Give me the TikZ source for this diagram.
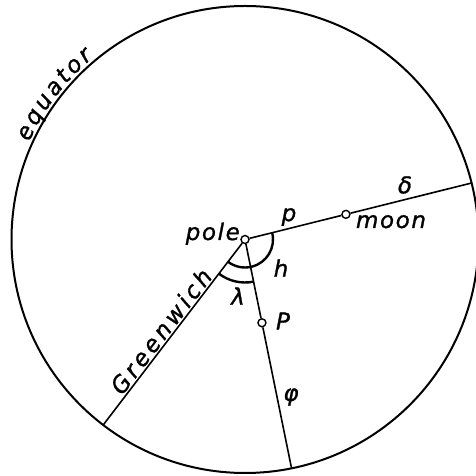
\documentclass[tikz,border=0pt]{standalone}
\usepackage{fontspec}
\newfontfamily\lbl{DejaVu Sans}[LetterSpace=7,FakeBold=1.2]
\newfontfamily\lblwide{DejaVu Sans}[LetterSpace=15,FakeBold=1.2]
\newfontfamily\lblone{DejaVu Sans}[FakeBold=1.2]
\usetikzlibrary{calc}
\begin{document}
\begin{tikzpicture}[x=1pt,y=1pt,
  lab/.style={font=\lbl\itshape\fontsize{23}{25}\selectfont, inner sep=0pt},
  labwide/.style={font=\lblwide\itshape\fontsize{23}{25}\selectfont, inner sep=0pt},
  labone/.style={font=\lblone\itshape\fontsize{23}{25}\selectfont, inner sep=0pt},
  dot/.style={circle, draw, fill=white, line width=1.4pt, minimum size=8pt, inner sep=0pt},
  radial/.style={line width=1.6pt},
  anglearc/.style={line width=2.4pt}]
\useasboundingbox (0,0) rectangle (475,476);
\coordinate (C) at (245,236.5);
\draw[line width=2pt] (C) circle[radius=233.5];
% angle arcs
\draw[anglearc] ($(C)+(14:28)$) arc[start angle=14, end angle=-127.4, radius=28];
\draw[anglearc] ($(C)+(-127.4:43)$) arc[start angle=-127.4, end angle=-78.5, radius=43];
% points
\node[dot] (pole) at (C) {};
\node[dot] (moon) at ($(C)+(14:104)$) {};
\node[dot] (Pt) at ($(C)+(-78.5:85)$) {};
\coordinate (eMoon) at ($(C)+(14:233.5)$);
\coordinate (eP) at ($(C)+(-78.5:233.5)$);
\coordinate (eG) at ($(C)+(-127.4:233.5)$);
\draw[radial] (pole) -- (moon);
\draw[radial] (moon) -- (eMoon);
\draw[radial] (pole) -- (Pt);
\draw[radial] (Pt) -- (eP);
\draw[radial] (pole) -- (eG);
% labels
\node[lab, anchor=base east] (tpole) at (240,236) {pole};
\node[lab, anchor=base] (tmoon) at (391,248) {moon};
\node[labone] (tp) at (289,259) {p};
\node[labone] (td) at (405,291) {δ};
\node[labone] (th) at (281,208) {h};
\node[labone] (tl) at (238,180) {λ};
\node[labone] (tP) at (283,155) {P};
\node[labone] (tf) at (291,79) {φ};
\node[labwide, rotate=52.6, anchor=south, inner sep=2pt] (gw) at ($(C)+(-127.4:124)$) {Greenwich};
\foreach \ch/\a in {e/154, q/149.85, u/145.64, a/141.51, t/138.01, o/134.53, r/130.98}
  \node[labone, anchor=base, rotate=\a-90] (eq\ch) at ($(C)+(\a:237)$) {\ch};
\end{tikzpicture}
\end{document}
